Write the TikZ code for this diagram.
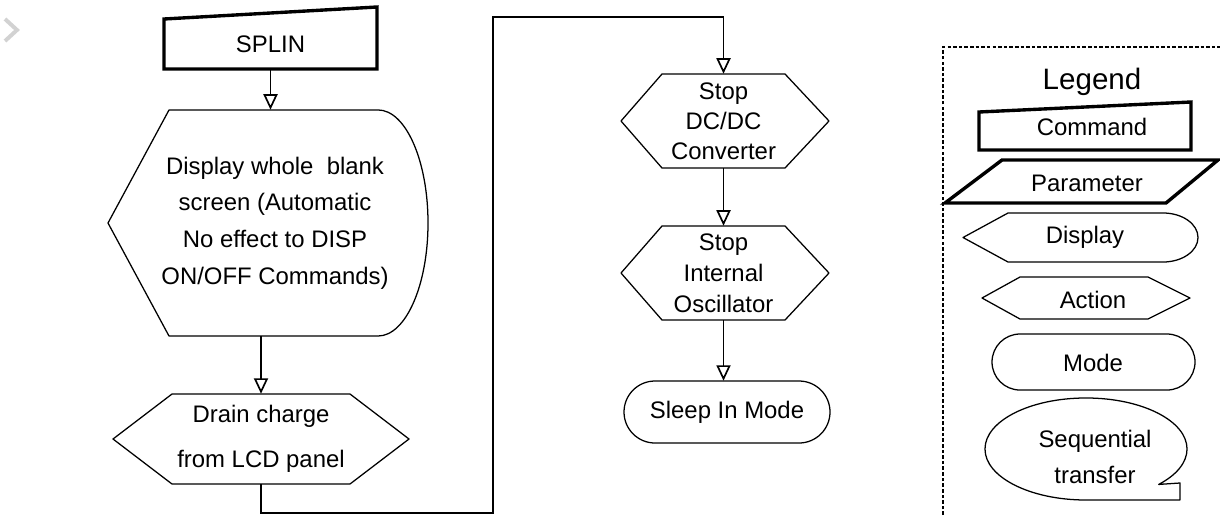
\documentclass[tikz,border=0pt]{standalone}
\usepackage{fontspec}
\setmainfont{Liberation Sans}
\usetikzlibrary{arrows.meta}

\tikzset{
  outline/.style={line width=0.9pt, line join=round},
  thickline/.style={line width=2.4pt, line join=miter},
  txt/.style={font=\fontsize{17}{26}\selectfont, align=center, inner sep=0pt},
  flow/.style={line width=0.9pt, -{Triangle[open, length=11pt, width=10pt, line width=1.2pt]}}
}

\begin{document}
\begin{tikzpicture}[x=0.025cm, y=-0.025cm]
  \useasboundingbox (0,0) rectangle (1220,515);
  % browser chevron
  \draw[gray!35, line width=2.8pt] (5,19) -- (17,30) -- (5,41);

  % flow chart shapes
  \draw[thickline] (164,69) -- (164,19) -- (377,7) -- (377,69) -- cycle;
  \draw[outline] (378,110) -- (169,110) -- (108,223) -- (169,336) -- (378,336)
    arc[start angle=-90, end angle=90, x radius=1.25cm, y radius=2.825cm] -- cycle;
  \draw[outline] (172,394) -- (350,394) -- (409,439) -- (350,484) -- (172,484) -- (113,439) -- cycle;
  \draw[outline] (662,74) -- (785,74) -- (829,121) -- (785,168) -- (662,168) -- (621,121) -- cycle;
  \draw[outline] (662,226) -- (785,226) -- (829,273) -- (785,320) -- (662,320) -- (621,273) -- cycle;
  \draw[outline, rounded corners=0.775cm] (624,381) rectangle (830,443);

  \node[txt, minimum height=1.25cm] (splin) at (270.5,44) {SPLIN};
  \node[txt, minimum height=5.65cm] (blank) at (275,223)
    {Display whole\ \ blank\\screen (Automatic\\No effect to DISP\\ON/OFF Commands)};
  \node[txt, minimum height=2.25cm, font=\fontsize{17}{32}\selectfont] (drain) at (261,439)
    {Drain charge\\from LCD panel};
  \node[txt, minimum height=2.35cm, font=\fontsize{17}{21.5}\selectfont] (dcdc) at (723.5,121)
    {Stop\\DC/DC\\Converter};
  \node[txt, minimum height=2.35cm, font=\fontsize{17}{22}\selectfont] (osc) at (723.5,273)
    {Stop\\Internal\\Oscillator};
  \node[txt, minimum height=1.55cm] (sleep) at (727,412) {Sleep In Mode};

  \coordinate (low) at (493,513);
  \coordinate (high) at (493,17);

  \draw[flow] (splin.south) -- (splin.south |- blank.north);
  \draw[flow] (blank.south -| drain.north) -- (drain.north);
  \draw[flow] (drain.south) |- (low) -- (high) -| (dcdc.north);
  \draw[flow] (dcdc) -- (osc);
  \draw[flow] (osc.south) -- (osc.south |- sleep.north);

  % legend
  \draw[line width=1pt, dash pattern=on 2.5pt off 1.5pt] (943,515) -- (943,47) -- (1220,47);
  \node[txt, font=\fontsize{21}{25}\selectfont] (legend) at (1092,82) {Legend};

  \draw[thickline] (979,150) -- (979,112) -- (1191,102) -- (1191,150) -- cycle;
  \draw[thickline] (945,203) -- (1002,160) -- (1218,160) -- (1166,203) -- cycle;
  \draw[outline] (1163,213) -- (1008,213) -- (963,237.5) -- (1008,262) -- (1163,262)
    arc[start angle=-90, end angle=90, x radius=0.875cm, y radius=0.6125cm] -- cycle;
  \draw[outline] (1020,277) -- (1148,277) -- (1190,298) -- (1148,319) -- (1020,319) -- (982,298) -- cycle;
  \draw[outline, rounded corners=0.7cm] (992,334) rectangle (1195,390);
  \draw[outline] (1180,500) -- (1086,500)
    arc[start angle=-90, end angle=-404, x radius=2.525cm, y radius=1.275cm] -- (1180,483) -- cycle;

  \node[txt] (cmdkey) at (1092,127) {Command};
  \node[txt] (parkey) at (1087,183) {Parameter};
  \node[txt] (dispkey) at (1085,237) {Display};
  \node[txt] (actkey) at (1093,300) {Action};
  \node[txt] (modekey) at (1093,363) {Mode};
  \node[txt, font=\fontsize{17}{25.5}\selectfont] (seqkey) at (1095,457) {Sequential\\transfer};
\end{tikzpicture}
\end{document}
